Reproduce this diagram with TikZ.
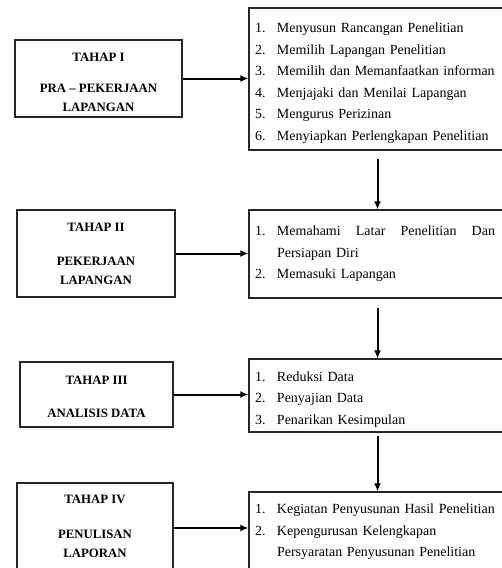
\documentclass[tikz,border=0pt]{standalone}
\usepackage{fontspec}
\setmainfont{Liberation Serif}
\usetikzlibrary{arrows.meta}

\begin{document}
\begin{tikzpicture}[x=1pt, y=-1pt,
    tahap/.style    = {draw=black!85, line width=1.2pt, align=center, inner sep=0pt,
                       font={\fontsize{12.8}{19}\selectfont\bfseries}},
    kegiatan/.style = {draw=black!85, line width=1.2pt, align=left, inner xsep=6pt, inner ysep=0pt,
                       text width=245pt, minimum width=257pt,
                       font={\fontsize{14}{21.5}\selectfont}},
    panah/.style    = {line width=2pt, -{Latex[length=8pt,width=7pt]}}]
        \useasboundingbox (0,0) rectangle (502,568);
        % kotak tahap (kiri)
        \node[tahap, minimum width=167pt, minimum height=77pt] (tahap1) at (98.5,78.5)
            {\rule{0pt}{16.5pt}TAHAP I\\[12pt]PRA – PEKERJAAN\\LAPANGAN};
        \node[tahap, minimum width=158pt, minimum height=87pt] (tahap2) at (96,253.5)
            {TAHAP II\\[15pt]PEKERJAAN\\LAPANGAN};
        \node[tahap, minimum width=153pt, minimum height=65pt] (tahap3) at (96.5,394.5)
            {\rule{0pt}{12.5pt}TAHAP III\\[14pt]ANALISIS DATA};
        \node[tahap, minimum width=156pt, minimum height=90pt] (tahap4) at (95,528)
            {TAHAP IV\\[16pt]PENULISAN\\LAPORAN\rule[-4pt]{0pt}{4pt}};
        % kotak kegiatan (kanan)
        \node[kegiatan, minimum height=142pt] (kegiatan1) at (377.5,79) {%
            \rule{0pt}{17.6pt}\makebox[22pt][l]{1.}Menyusun Rancangan Penelitian\\
            \makebox[22pt][l]{2.}Memilih Lapangan Penelitian\\
            \makebox[22pt][l]{3.}Memilih dan Memanfaatkan informan\\
            \makebox[22pt][l]{4.}Menjajaki dan Menilai Lapangan\\
            \makebox[22pt][l]{5.}Mengurus Perizinan\\
            \makebox[22pt][l]{6.}Menyiapkan Perlengkapan Penelitian};
        \node[kegiatan, minimum height=88pt] (kegiatan2) at (377.5,254) {%
            \makebox[22pt][l]{1.}\makebox[218pt][l]{Memahami\hfill Latar\hfill Penelitian\hfill Dan}\\
            \hspace*{22pt}Persiapan Diri\\
            \makebox[22pt][l]{2.}Memasuki Lapangan};
        \node[kegiatan, minimum height=73pt] (kegiatan3) at (377.5,395.5) {%
            \rule{0pt}{17.6pt}\makebox[22pt][l]{1.}Reduksi Data\\
            \makebox[22pt][l]{2.}Penyajian Data\\
            \makebox[22pt][l]{3.}Penarikan Kesimpulan};
        \node[kegiatan, minimum height=80pt] (kegiatan4) at (377.5,532) {%
            \makebox[22pt][l]{1.}Kegiatan Penyusunan Hasil Penelitian\\
            \makebox[22pt][l]{2.}Kepengurusan Kelengkapan\\
            \hspace*{22pt}Persyaratan Penyusunan Penelitian};
        % panah mendatar
        \draw[panah] (tahap1.east) -- (tahap1.east -| kegiatan1.west);
        \draw[panah] (tahap2.east) -- (tahap2.east -| kegiatan2.west);
        \draw[panah] (tahap3.east) -- (tahap3.east -| kegiatan3.west);
        \draw[panah] (tahap4.east) -- (tahap4.east -| kegiatan4.west);
        % panah tegak
        \draw[panah, shorten <=8pt] (kegiatan1.south) -- (kegiatan2.north);
        \draw[panah, shorten <=9pt] (kegiatan2.south) -- (kegiatan3.north);
        \draw[panah, shorten <=3pt] (kegiatan3.south) -- (kegiatan4.north);
      \end{tikzpicture}
\end{document}
